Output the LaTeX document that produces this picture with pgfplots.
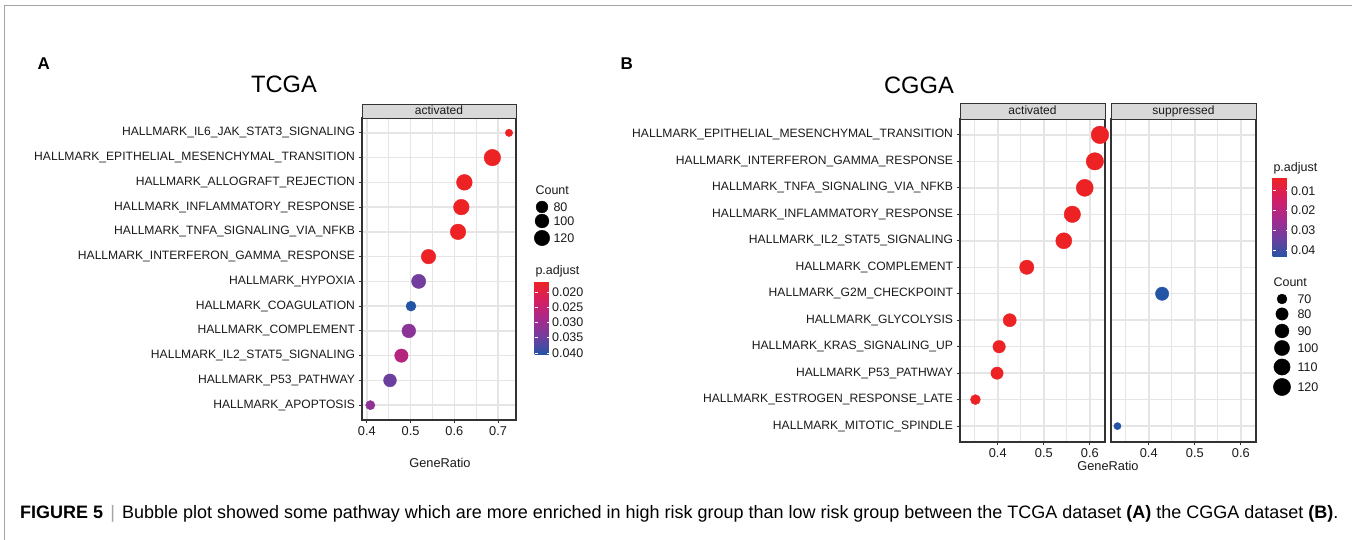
\documentclass[border=0pt]{standalone}
\usepackage{graphicx}
\usepackage{fontspec}
\setmainfont{Liberation Sans}
\usepackage{pgfplots}
\pgfplotsset{compat=1.18}
\usepackage{pgfplotstable}

\definecolor{gridc}{RGB}{229,229,229}
\definecolor{axc}{RGB}{51,51,51}
\definecolor{stripc}{RGB}{217,217,217}
\definecolor{txt}{RGB}{26,26,26}
\definecolor{framec}{RGB}{165,165,165}

\newcommand{\HM}{HALLMARK\_}
\newcommand{\fs}[1]{\fontsize{#1}{#1}\selectfont}

% TCGA: y index (1 = bottom row), GeneRatio, Count, p.adjust
\pgfplotstableread{
y x count p
1 0.408 66 0.0315
2 0.453 90 0.0350
3 0.479 95 0.0270
4 0.496 99 0.0320
5 0.501 69 0.0407
6 0.5185 104 0.0345
7 0.541 108 0.0170
8 0.6085 122 0.0167
9 0.616 123 0.0167
10 0.623 125 0.0167
11 0.687 137 0.0167
12 0.725 63 0.0167
}\tcga

% CGGA activated
\pgfplotstableread{
y x count p
2 0.3515 70 0.0035
3 0.3985 80 0.0035
4 0.403 81 0.0035
5 0.426 85 0.0035
7 0.463 93 0.0035
8 0.5435 108 0.0035
9 0.562 112 0.0035
10 0.589 118 0.0035
11 0.611 122 0.0035
12 0.622 124 0.0035
}\cggaact

% CGGA suppressed
\pgfplotstableread{
y x count p
1 0.332 66 0.0435
6 0.429 86 0.0435
}\cggasup

% size legends
\pgfplotstableread{
x y count
8 43 80
8 29 100
8 12 120
}\tcgaleg

\pgfplotstableread{
x y count
10 101 70
10 86 80
10 69 90
10 52 100
10 33 110
10 13 120
}\cggaleg

\pgfplotsset{
  colormap={padj}{rgb255(0cm)=(237,34,36); rgb255(1cm)=(214,30,98); rgb255(2cm)=(168,40,140); rgb255(3cm)=(112,62,158); rgb255(4cm)=(36,84,165)},
  panel/.style={
    scale only axis, anchor=south west,
    ymin=0.4, ymax=12.6, ytick={1,...,12},
    xtick={0.4,0.5,0.6,0.7},
    xmajorgrids, xminorgrids, ymajorgrids,
    major grid style={draw=gridc, line width=1.5pt},
    minor grid style={draw=gridc, line width=0.8pt},
    axis line style={draw=axc, line width=1.1pt},
    tick align=outside, tick pos=left,
    major tick length=3.5pt, minor tick length=0pt,
    tick style={draw=axc, line width=1.1pt},
    tick label style={font=\fs{12.1}, text=txt},
    xticklabel style={font=\fs{12.8}},
    /pgf/number format/assume math mode=true,
    /pgf/number format/fixed, /pgf/number format/precision=1,
    scaled ticks=false,
    colormap name=padj,
  },
  cbar/.style={
    scale only axis,
    y dir=reverse,
    tick pos=both, yticklabel pos=right,
    tick align=inside, major tick length=3pt,
    ytick style={draw=white, line width=0.7pt},
    axis line style={draw=none},
    scaled y ticks=false,
    yticklabel style={font=\fs{12.5}, text=txt, xshift=-1pt},
    /pgf/number format/assume math mode=true,
    /pgf/number format/fixed, /pgf/number format/zerofill,
  },
}

\begin{document}
\begin{tikzpicture}
\useasboundingbox (0,0) rectangle (1352pt,540pt);
\fill[white] (0,0) rectangle (1352pt,540pt);
\draw[framec, line width=1pt] (4pt,0pt) -- (4pt,534pt) -- (1352pt,534pt);

% ---------------- TCGA ----------------
\begin{axis}[panel,
  at={(362pt,120pt)}, width=154pt, height=302pt,
  xmin=0.389, xmax=0.741,
  minor xtick={0.45,0.55,0.65},
  yticklabels={\HM APOPTOSIS, \HM P53\_PATHWAY, \HM IL2\_STAT5\_SIGNALING, \HM COMPLEMENT, \HM COAGULATION, \HM HYPOXIA, \HM INTERFERON\_GAMMA\_RESPONSE, \HM TNFA\_SIGNALING\_VIA\_NFKB, \HM INFLAMMATORY\_RESPONSE, \HM ALLOGRAFT\_REJECTION, \HM EPITHELIAL\_MESENCHYMAL\_TRANSITION, \HM IL6\_JAK\_STAT3\_SIGNALING},
  point meta min=0.0167, point meta max=0.0407,
  colorbar,
  colorbar style={cbar, at={(526pt,258pt)}, anchor=north west,
    width=15pt, height=73pt,
    ytick={0.02,0.025,0.03,0.035,0.04},
    /pgf/number format/precision=3},
]
\addplot[scatter, only marks, mark=*, point meta=explicit,
  scatter/use mapped color={draw=mapped color, fill=mapped color},
  visualization depends on={\thisrow{count} \as \cnt},
  scatter/@pre marker code/.append style={/tikz/mark size={3.7+0.5312*sqrt(max(0,\cnt-63))}}]
  table[x=x, y=y, meta=p] {\tcga};
\end{axis}

\begin{axis}[hide axis, scale only axis, anchor=south west, at={(534pt,290pt)},
  width=20pt, height=60pt, xmin=0, xmax=20, ymin=0, ymax=60, clip=false]
\addplot[scatter, only marks, mark=*, point meta=\thisrow{count},
  scatter/use mapped color={draw=black, fill=black},
  visualization depends on={\thisrow{count} \as \cnt},
  scatter/@pre marker code/.append style={/tikz/mark size={3.7+0.5312*sqrt(max(0,\cnt-63))}}]
  table[x=x, y=y] {\tcgaleg};
\end{axis}

\draw[fill=stripc, draw=axc, line width=0.9pt] (362pt,422pt) rectangle (516pt,436pt);
\node[anchor=base, font=\fs{12}, text=txt] at (439pt,425pt) {activated};

\node[anchor=west, font=\bfseries\fs{17}] at (34pt,476pt) {A};
\node[font=\fs{23.7}] at (284pt,456pt) {TCGA};
\node[font=\fs{12.8}, text=txt] at (440pt,77pt) {GeneRatio};
\node[anchor=west, font=\fs{12.5}, text=txt] at (532pt,350pt) {Count};
\node[anchor=west, font=\fs{12.5}, text=txt] at (550pt,333pt) {80};
\node[anchor=west, font=\fs{12.5}, text=txt] at (550pt,319pt) {100};
\node[anchor=west, font=\fs{12.5}, text=txt] at (550pt,302pt) {120};
\node[anchor=base west, font=\fs{12.5}, text=txt] at (532pt,265pt) {p.adjust};

% ---------------- CGGA ----------------
\begin{axis}[panel,
  at={(960pt,98pt)}, width=145pt, height=323pt,
  xmin=0.318, xmax=0.633,
  minor xtick={0.35,0.45,0.55},
  xtick={0.4,0.5,0.6},
  yticklabels={\HM MITOTIC\_SPINDLE, \HM ESTROGEN\_RESPONSE\_LATE, \HM P53\_PATHWAY, \HM KRAS\_SIGNALING\_UP, \HM GLYCOLYSIS, \HM G2M\_CHECKPOINT, \HM COMPLEMENT, \HM IL2\_STAT5\_SIGNALING, \HM INFLAMMATORY\_RESPONSE, \HM TNFA\_SIGNALING\_VIA\_NFKB, \HM INTERFERON\_GAMMA\_RESPONSE, \HM EPITHELIAL\_MESENCHYMAL\_TRANSITION},
  point meta min=0.0035, point meta max=0.0435,
  colorbar,
  colorbar style={cbar, at={(1264pt,362pt)}, anchor=north west,
    width=16pt, height=79pt,
    ytick={0.01,0.02,0.03,0.04},
    /pgf/number format/precision=2},
]
\addplot[scatter, only marks, mark=*, point meta=explicit,
  scatter/use mapped color={draw=mapped color, fill=mapped color},
  visualization depends on={\thisrow{count} \as \cnt},
  scatter/@pre marker code/.append style={/tikz/mark size={3.6+0.6828*sqrt(max(0,\cnt-66))}}]
  table[x=x, y=y, meta=p] {\cggaact};
\end{axis}

\begin{axis}[panel,
  at={(1111pt,98pt)}, width=145pt, height=323pt,
  xmin=0.318, xmax=0.633,
  minor xtick={0.35,0.45,0.55},
  xtick={0.4,0.5,0.6},
  yticklabels={}, ytick style={draw=none},
  point meta min=0.0035, point meta max=0.0435,
]
\addplot[scatter, only marks, mark=*, point meta=explicit,
  scatter/use mapped color={draw=mapped color, fill=mapped color},
  visualization depends on={\thisrow{count} \as \cnt},
  scatter/@pre marker code/.append style={/tikz/mark size={3.6+0.6828*sqrt(max(0,\cnt-66))}}]
  table[x=x, y=y, meta=p] {\cggasup};
\end{axis}

\begin{axis}[hide axis, scale only axis, anchor=south west, at={(1272pt,140pt)},
  width=20pt, height=110pt, xmin=0, xmax=20, ymin=0, ymax=110, clip=false]
\addplot[scatter, only marks, mark=*, point meta=\thisrow{count},
  scatter/use mapped color={draw=black, fill=black},
  visualization depends on={\thisrow{count} \as \cnt},
  scatter/@pre marker code/.append style={/tikz/mark size={3.6+0.6828*sqrt(max(0,\cnt-66))}}]
  table[x=x, y=y] {\cggaleg};
\end{axis}

\draw[fill=stripc, draw=axc, line width=0.9pt] (960pt,421pt) rectangle (1105pt,437pt);
\draw[fill=stripc, draw=axc, line width=0.9pt] (1111pt,421pt) rectangle (1256pt,437pt);
\node[anchor=base, font=\fs{12}, text=txt] at (1032.5pt,425pt) {activated};
\node[anchor=base, font=\fs{12}, text=txt] at (1183.5pt,425pt) {suppressed};

\node[anchor=west, font=\bfseries\fs{17}] at (617pt,476pt) {B};
\node[font=\fs{23.7}] at (919pt,455pt) {CGGA};
\node[font=\fs{12.8}, text=txt] at (1108pt,74pt) {GeneRatio};
\node[anchor=base west, font=\fs{12.5}, text=txt] at (1270pt,368pt) {p.adjust};
\node[anchor=west, font=\fs{12.5}, text=txt] at (1270pt,258pt) {Count};
\node[anchor=west, font=\fs{12.5}, text=txt] at (1294pt,241pt) {70};
\node[anchor=west, font=\fs{12.5}, text=txt] at (1294pt,226pt) {80};
\node[anchor=west, font=\fs{12.5}, text=txt] at (1294pt,209pt) {90};
\node[anchor=west, font=\fs{12.5}, text=txt] at (1294pt,192pt) {100};
\node[anchor=west, font=\fs{12.5}, text=txt] at (1294pt,173pt) {110};
\node[anchor=west, font=\fs{12.5}, text=txt] at (1294pt,153pt) {120};

% ---------------- caption ----------------
\node[anchor=base west, inner sep=0pt] at (20pt,21pt) {\resizebox{1318pt}{\height}{\fs{18}\textbf{FIGURE 5}\hspace{0.4em}{\color{framec}|}\hspace{0.4em}Bubble plot showed some pathway which are more enriched in high risk group than low risk group between the TCGA dataset \textbf{(A)} the CGGA dataset \textbf{(B)}.}};
\end{tikzpicture}
\end{document}
